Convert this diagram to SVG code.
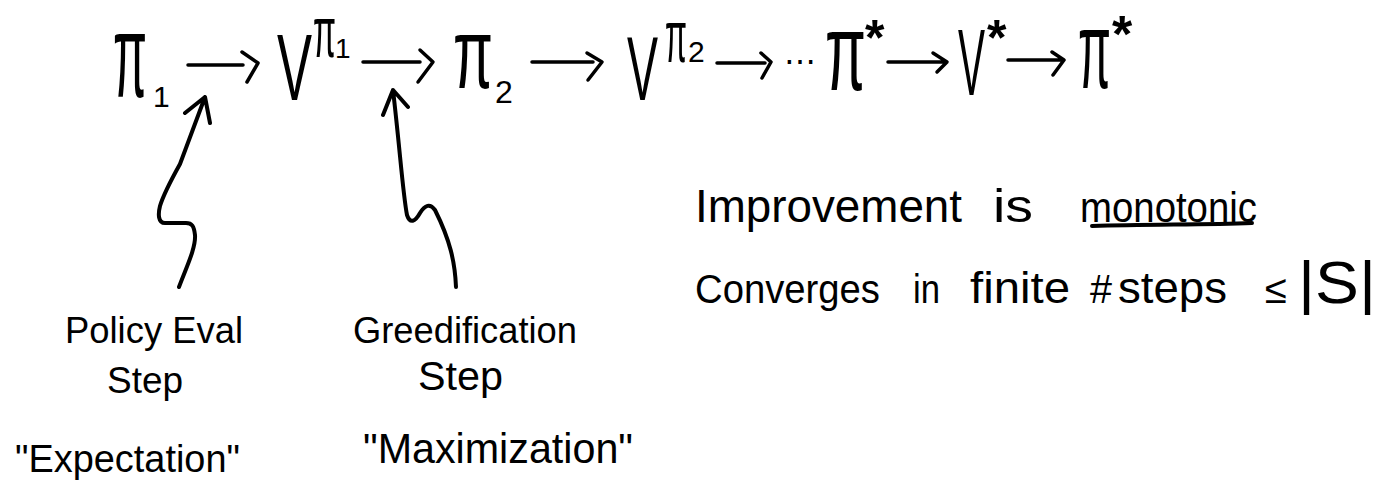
<svg xmlns="http://www.w3.org/2000/svg" width="1380" height="490" viewBox="0 0 1380 490">
<style>
  .t { font-family: "Liberation Sans", Arial, sans-serif; fill: #000; }
  .m { font-family: "Liberation Sans", Arial, sans-serif; fill: #000; }
  .star { font-family: "Liberation Sans", Arial, sans-serif; font-weight: bold; fill: #000; }
  .conn { fill: none; stroke: #000; stroke-width: 3.5; stroke-linecap: round; stroke-linejoin: round; }
  .squig { fill: none; stroke: #000; stroke-width: 4; stroke-linecap: round; stroke-linejoin: round; }
</style>
<rect width="1380" height="490" fill="#fff"/>

<g id="connectors">
  <path class="conn" d="M188,65 H243 M242,52 L258,63 L247,82"/>
  <path class="conn" d="M363,62 H420 M420,50 L433,62 L418,82"/>
  <path class="conn" d="M532,62 H593 M587,53 L602,62 L588,80"/>
  <path class="conn" d="M717,63 H765 M761,53 L771,62 L762,78"/>
  <path class="conn" d="M888,62 H943 M933,53 L947,62 L937,72"/>
  <path class="conn" d="M1008,60 H1063 M1052,52 L1064,60 L1053,75"/>
  <path class="squig" d="M179,287 C186,268 196,248 195,235 C194,226 192,223 186,223 L165,223 C158,223 158,214 160,206 C163,196 170,182 180,164 L205,97 M185,113 L205,97 L210,123"/>
  <path class="squig" d="M456,287 C455,262 450,240 435,210 C430,203 425,205 420,213 C415,222 410,224 407,215 C403,195 400,150 393,90 M383,115 L393,90 L408,107"/>
</g>

<g id="pi1">
  <text class="m"><tspan x="113" y="97" font-size="118" textLength="34" lengthAdjust="spacingAndGlyphs">π</tspan><tspan x="153" y="107" font-size="30">1</tspan></text>
</g>
<g id="v-pi1">
  <text class="m"><tspan x="277" y="100" font-size="94" textLength="35" lengthAdjust="spacingAndGlyphs">V</tspan><tspan x="313" y="57" font-size="72" textLength="23" lengthAdjust="spacingAndGlyphs">π</tspan><tspan x="335" y="58" font-size="28">1</tspan></text>
</g>
<g id="pi2">
  <text class="m"><tspan x="453" y="88" font-size="100" textLength="40" lengthAdjust="spacingAndGlyphs">π</tspan><tspan x="495" y="103" font-size="32">2</tspan></text>
</g>
<g id="v-pi2">
  <text class="m"><tspan x="627" y="100" font-size="90" textLength="31" lengthAdjust="spacingAndGlyphs">V</tspan><tspan x="665" y="62" font-size="75" textLength="22" lengthAdjust="spacingAndGlyphs">π</tspan><tspan x="688" y="62" font-size="30">2</tspan></text>
</g>
<g id="ellipsis">
  <text class="m" x="784" y="72" font-size="32">⋯</text>
</g>
<g id="pi-star-1">
  <text class="m"><tspan x="825" y="90" font-size="110" textLength="41" lengthAdjust="spacingAndGlyphs">π</tspan><tspan class="star" x="865" y="55" font-size="50">*</tspan></text>
</g>
<g id="v-star">
  <text class="m"><tspan x="958" y="95" font-size="94" textLength="27" lengthAdjust="spacingAndGlyphs">V</tspan><tspan class="star" x="987" y="55" font-size="50">*</tspan></text>
</g>
<g id="pi-star-2">
  <text class="m"><tspan x="1078" y="88" font-size="110" textLength="33" lengthAdjust="spacingAndGlyphs">π</tspan><tspan class="star" x="1112" y="52" font-size="52">*</tspan></text>
</g>

<g id="label-policy-eval">
  <text class="t" font-size="36"><tspan x="65" y="343" textLength="178" lengthAdjust="spacingAndGlyphs">Policy Eval</tspan><tspan x="107" y="393" textLength="76" lengthAdjust="spacingAndGlyphs">Step</tspan><tspan x="15" y="472" font-size="38" textLength="225" lengthAdjust="spacingAndGlyphs">"Expectation"</tspan></text>
</g>
<g id="label-greedification">
  <text class="t" font-size="36"><tspan x="353" y="343" textLength="224" lengthAdjust="spacingAndGlyphs">Greedification</tspan><tspan x="418" y="390" font-size="40" textLength="85" lengthAdjust="spacingAndGlyphs">Step</tspan><tspan x="363" y="463" font-size="42" textLength="270" lengthAdjust="spacingAndGlyphs">"Maximization"</tspan></text>
</g>

<g id="note-improvement">
  <text class="t" font-size="46" y="222"><tspan x="695" textLength="267" lengthAdjust="spacingAndGlyphs">Improvement</tspan><tspan x="993" textLength="40" lengthAdjust="spacingAndGlyphs">is</tspan><tspan x="1080" font-size="42" textLength="177" lengthAdjust="spacingAndGlyphs">monotonic</tspan></text>
  <path class="squig" d="M1092,226 C1150,224 1200,225 1252,223"/>
</g>
<g id="note-converges">
  <text class="t" font-size="40" y="303"><tspan x="695" textLength="185" lengthAdjust="spacingAndGlyphs">Converges</tspan><tspan x="913" textLength="27" lengthAdjust="spacingAndGlyphs">in</tspan><tspan x="970" font-size="44" textLength="100" lengthAdjust="spacingAndGlyphs">finite</tspan><tspan x="1090" textLength="22" lengthAdjust="spacingAndGlyphs">#</tspan><tspan x="1118" font-size="44" textLength="109" lengthAdjust="spacingAndGlyphs">steps</tspan><tspan x="1265" textLength="22" lengthAdjust="spacingAndGlyphs">≤</tspan><tspan x="1298" font-size="60" textLength="78" lengthAdjust="spacingAndGlyphs">|S|</tspan></text>
</g>
</svg>
